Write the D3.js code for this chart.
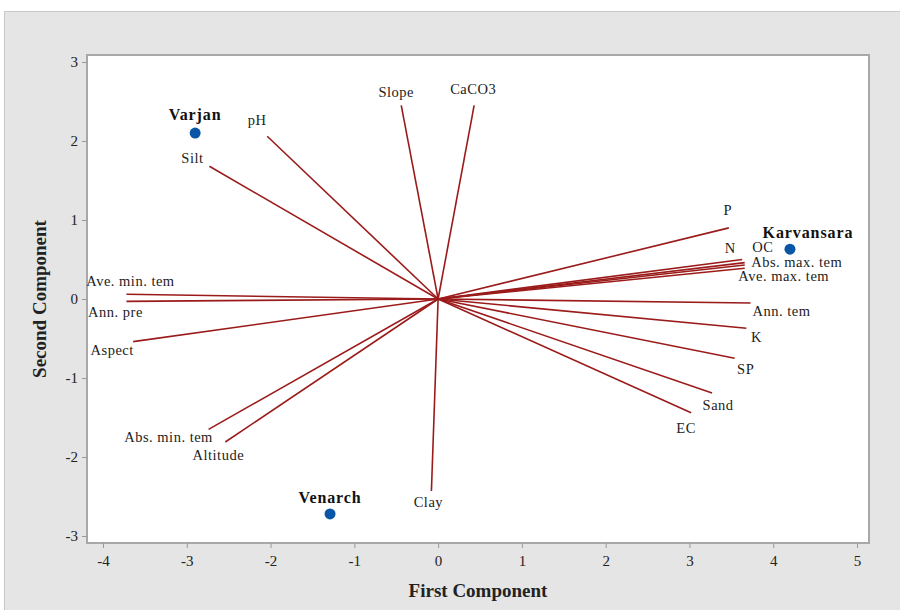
<!DOCTYPE html>
<html>
<head>
<meta charset="utf-8">
<script src="https://cdn.jsdelivr.net/npm/d3@7"></script>
<style>
  body { margin: 0; background: #fff; }
  svg text { font-family: "Liberation Serif", "DejaVu Serif", serif; }
</style>
</head>
<body>
<div id="chart"></div>
<script>
// loading vectors (first, second component)
const varNames = ["Slope", "CaCO3", "pH", "Silt", "P", "N", "OC", "Abs. max. tem", "Ave. max. tem",
  "Ann. tem", "K", "SP", "Sand", "EC", "Clay", "Altitude", "Abs. min. tem", "Aspect", "Ann. pre", "Ave. min. tem"];
const varX = [-0.44, 0.43, -2.04, -2.73, 3.47, 3.63, 3.66, 3.66, 3.66, 3.73, 3.68, 3.54, 3.27, 3.02, -0.08, -2.54, -2.74, -3.64, -3.72, -3.72];
const varY = [2.45, 2.45, 2.06, 1.68, 0.90, 0.50, 0.46, 0.43, 0.39, -0.05, -0.37, -0.75, -1.19, -1.44, -2.43, -1.81, -1.65, -0.54, -0.03, 0.06];
// label offsets (px) from vector tip
const labDx = [-5, -1, -10, -17, -1, -12, 18, 52, 39, 31, 10, 11, 6, -5, -3, -7, -40, -21, -11, 4];
const labDy = [-9, -12, -12, -4, -14, -8, -12, 1, 12, 12, 13, 15, 16, 19, 15, 17, 12, 12, 15, -9];

// site scores
const sites = ["Varjan", "Karvansara", "Venarch"];
const siteX = [-2.90, 4.20, -1.29];
const siteY = [2.10, 0.63, -2.72];

const xTicks = [-4, -3, -2, -1, 0, 1, 2, 3, 4, 5];
const yTicks = [-3, -2, -1, 0, 1, 2, 3];

const W = 900, H = 610;
const pLeft = 87, pRight = 869, pTop = 55, pBottom = 543;

const svg = d3.select("#chart").append("svg").attr("width", W).attr("height", H);

svg.append("rect").attr("x", 4.5).attr("y", 11.5).attr("width", W).attr("height", H)
  .attr("fill", "#e5e5e5").attr("stroke", "#c8c8c8");

const x = d3.scaleLinear().domain([-4, 5]).range([103, 857]);
const y = d3.scaleLinear().domain([-3, 3]).range([536, 62]);

svg.append("rect").attr("x", pLeft).attr("y", pTop)
  .attr("width", pRight - pLeft).attr("height", pBottom - pTop)
  .attr("fill", "#fff").attr("stroke", "#a8a8a8").attr("stroke-width", 2);

const xAxis = svg.append("g").attr("transform", "translate(0," + pBottom + ")")
  .call(d3.axisBottom(x).tickValues(xTicks).tickSize(5).tickPadding(7).tickFormat(d => String(d)));
const yAxis = svg.append("g").attr("transform", "translate(" + pLeft + ",0)")
  .call(d3.axisLeft(y).tickValues(yTicks).tickSize(5).tickPadding(4).tickFormat(d => String(d)));
[xAxis, yAxis].forEach(a => {
  a.attr("font-family", null);
  a.select(".domain").remove();
  a.selectAll(".tick line").attr("stroke", "#999");
  a.selectAll(".tick text").attr("font-size", 15).attr("fill", "#222");
});

svg.append("text").attr("x", 478).attr("y", 597).attr("text-anchor", "middle")
  .attr("font-size", 19).attr("font-weight", "bold").attr("fill", "#222")
  .text("First Component");
svg.append("text").attr("transform", "translate(46,299) rotate(-90)").attr("text-anchor", "middle")
  .attr("font-size", 19).attr("font-weight", "bold").attr("fill", "#222")
  .text("Second Component");

const idx = d3.range(varNames.length);
svg.selectAll(".vec").data(idx).enter().append("line")
  .attr("x1", x(0)).attr("y1", y(0))
  .attr("x2", i => x(varX[i])).attr("y2", i => y(varY[i]))
  .attr("stroke", "#9b1b1b").attr("stroke-width", 1.6);

svg.selectAll(".vlab").data(idx).enter().append("text")
  .attr("x", i => x(varX[i]) + labDx[i]).attr("y", i => y(varY[i]) + labDy[i] + 1)
  .attr("text-anchor", "middle").attr("font-size", 14.5).attr("letter-spacing", 0.5)
  .attr("fill", "#222")
  .text(i => varNames[i]);

const sIdx = d3.range(sites.length);
svg.selectAll(".site").data(sIdx).enter().append("circle")
  .attr("cx", i => x(siteX[i])).attr("cy", i => y(siteY[i])).attr("r", 5.5)
  .attr("fill", "#0a56a6");
svg.selectAll(".slab").data(sIdx).enter().append("text")
  .attr("x", i => x(siteX[i]) + (i === 1 ? 18 : 0)).attr("y", i => y(siteY[i]) - (i === 0 ? 13 : 11))
  .attr("text-anchor", "middle").attr("font-size", 16).attr("font-weight", "bold")
  .attr("letter-spacing", 0.9).attr("fill", "#111")
  .text(i => sites[i]);
</script>
</body>
</html>
